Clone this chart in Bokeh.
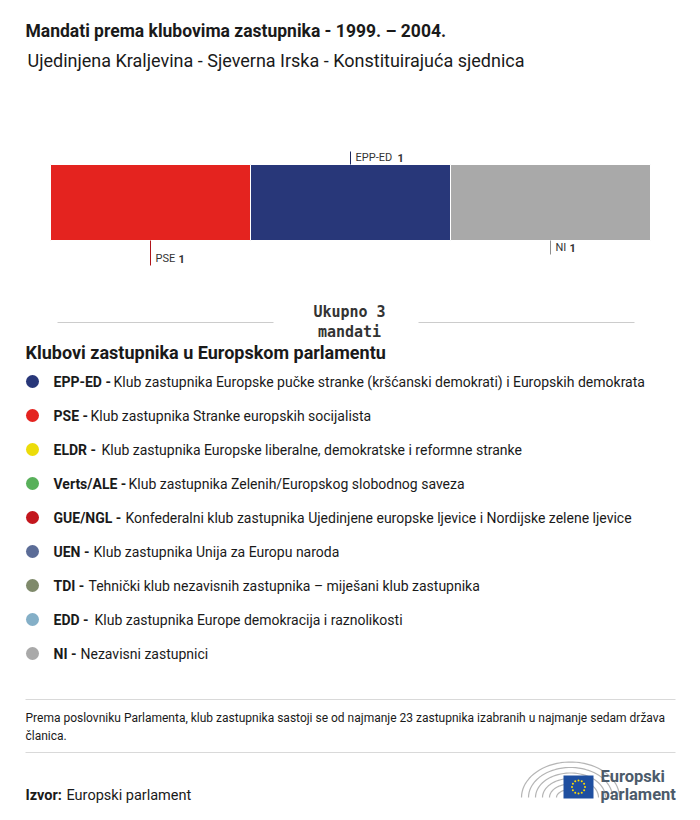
import numpy as np
from bokeh.plotting import figure
from bokeh.models import Range1d, ColumnDataSource
from bokeh.core.properties import value
from bokeh.embed import file_html
from bokeh.resources import INLINE

# ---------------- data ----------------
title = "Mandati prema klubovima zastupnika - 1999. – 2004."
subtitle = "Ujedinjena Kraljevina - Sjeverna Irska - Konstituirajuća sjednica"

groups = ["PSE", "EPP-ED", "NI"]
seats = [1, 1, 1]
group_colors = ["#e4231f", "#283779", "#a9a9a9"]
tick_colors = ["#b0141a", "#1c2860", "#8e8e8e"]

total_label = "Ukupno {}\nmandati"
legend_title = "Klubovi zastupnika u Europskom parlamentu"
legend_abbr = ["EPP-ED", "PSE", "ELDR", "Verts/ALE", "GUE/NGL", "UEN", "TDI", "EDD", "NI"]
legend_desc = [
    "Klub zastupnika Europske pučke stranke (kršćanski demokrati) i Europskih demokrata",
    "Klub zastupnika Stranke europskih socijalista",
    "Klub zastupnika Europske liberalne, demokratske i reformne stranke",
    "Klub zastupnika Zelenih/Europskog slobodnog saveza",
    "Konfederalni klub zastupnika Ujedinjene europske ljevice i Nordijske zelene ljevice",
    "Klub zastupnika Unija za Europu naroda",
    "Tehnički klub nezavisnih zastupnika – miješani klub zastupnika",
    "Klub zastupnika Europe demokracija i raznolikosti",
    "Nezavisni zastupnici",
]
legend_colors = ["#283779", "#e4231f", "#ecdc0a", "#58b05a", "#c3161d",
                 "#5b6c97", "#7f8a6b", "#84afc7", "#a9a9a9"]

note_lines = [
    "Prema poslovniku Parlamenta, klub zastupnika sastoji se od najmanje 23 zastupnika izabranih u najmanje sedam država",
    "članica.",
]
source_bold = "Izvor:"
source_text = "Europski parlament"
logo_lines = ["Europski", "parlament"]

# ---------------- layout (pixels from top-left of picture) ----------------
W, H = 684, 804
FONT = value("Roboto")
MONO = value("DejaVu Sans Mono")

p = figure(width=W, height=H, output_backend="svg", toolbar_location=None,
           x_range=Range1d(0, W), y_range=Range1d(H, 0),
           x_axis_type=None, y_axis_type=None, min_border=0,
           outline_line_color=None, background_fill_color="white",
           border_fill_color="white")
p.grid.visible = False

# bar scale: share axis mapped onto x 50..650
total = sum(seats)
bar_left_px, bar_right_px = 50, 650
scale = (bar_right_px - bar_left_px) / total
p.extra_x_ranges = {"share": Range1d(-bar_left_px / scale, (W - bar_left_px) / scale)}

cum = np.cumsum(seats)
lefts = cum - np.array(seats)
mids = lefts + np.array(seats) / 2.0
bar_src = ColumnDataSource(dict(left=lefts, right=cum, color=group_colors,
                                top=[164] * len(seats), bottom=[240] * len(seats)))
p.quad(left="left", right="right", top="top", bottom="bottom", fill_color="color",
       line_color="white", line_width=1, source=bar_src, x_range_name="share")

# labels: above / below-long / below-short
label_layout = {"PSE": (240, 265, 258), "EPP-ED": (151, 164, 157), "NI": (240, 254, 247)}
bold_off = {"PSE": 23, "EPP-ED": 42, "NI": 14}
for g, s, m, tc in zip(groups, seats, mids, tick_colors):
    y0, y1, yt = label_layout[g]
    p.segment(x0=[m], x1=[m], y0=[y0], y1=[y1], line_color=tc, line_width=1,
              x_range_name="share")
    p.text(x=[m], y=[yt], text=[g], x_offset=5, text_font=FONT, text_font_size="11px",
           text_color="#333333", text_baseline="middle", x_range_name="share")
    p.text(x=[m], y=[yt], text=[str(s)], x_offset=5 + bold_off[g], text_font=FONT,
           text_font_size="11px", text_font_style="bold", text_color="#333333",
           text_baseline="middle", x_range_name="share")

# titles
p.text(x=[25], y=[30], text=[title], text_font=FONT, text_font_size="17.5px",
       text_font_style="bold", text_color="#1a1a1a", text_baseline="middle")
p.text(x=[27], y=[60], text=[subtitle], text_font=FONT, text_font_size="18px",
       text_color="#1a1a1a", text_baseline="middle")

# total
p.segment(x0=[57, 418], x1=[273, 634], y0=[322, 322], y1=[322, 322],
          line_color="#cccccc", line_width=1)
tl = total_label.format(total).split("\n")
p.text(x=[349, 349], y=[311, 331], text=tl,
       text_font=MONO, text_font_size="15px", text_font_style="bold",
       text_color="#333333", text_align="center", text_baseline="middle")

# legend
p.text(x=[25], y=[352], text=[legend_title], text_font=FONT, text_font_size="18px",
       text_font_style="bold", text_color="#1a1a1a", text_baseline="middle")
n = len(legend_abbr)
ly = [381 + 34 * i for i in range(n)]
desc_x = [113, 90, 101, 128, 125, 93, 88, 94, 80]
p.scatter(x=[32] * n, y=ly, size=13, color=legend_colors, line_color=None)
p.text(x=[53] * n, y=ly, text=[a + " -" for a in legend_abbr], text_font=FONT,
       text_font_size="14px", text_font_style="bold", text_color="#1a1a1a",
       text_baseline="middle")
p.text(x=desc_x, y=ly, text=legend_desc, text_font=FONT,
       text_font_size="14px", text_color="#1a1a1a", text_baseline="middle")

# note and source
p.segment(x0=[25, 25], x1=[675, 675], y0=[699, 752], y1=[699, 752],
          line_color="#d9d9d9", line_width=1)
p.text(x=[25, 25], y=[717, 735], text=note_lines, text_font=FONT,
       text_font_size="12px", text_color="#1a1a1a", text_baseline="middle")
p.text(x=[25], y=[795], text=[source_bold], text_font=FONT, text_font_size="14.5px",
       text_font_style="bold", text_color="#1a1a1a", text_baseline="middle")
p.text(x=[66], y=[795], text=[source_text], text_font=FONT, text_font_size="14.5px",
       text_color="#1a1a1a", text_baseline="middle")

# logo (decoration)
cx, cy = 570, 797
t = np.linspace(np.pi, 2 * np.pi, 40)
xs, ys = [], []
for k in range(6):
    rx, ry = 14 + 7 * k, 8 + 5.5 * k
    xs.append(list(cx + rx * np.cos(t)))
    ys.append(list(cy + ry * np.sin(t)))
p.multi_line(xs=xs, ys=ys, line_color="#b5b5b5", line_width=1.2)
p.quad(left=[563], right=[593], top=[775], bottom=[798], fill_color="#1f4fa0",
       line_color=None)
ang = np.linspace(0, 2 * np.pi, 13)[:-1]
p.scatter(x=list(578 + 6.5 * np.cos(ang)), y=list(786.5 + 6.5 * np.sin(ang)),
          size=2, color="#ffdd00", line_color=None)
p.text(x=[600, 600], y=[776, 794], text=logo_lines, text_font=FONT,
       text_font_size="16.5px", text_font_style="bold", text_color="#4c5b6b",
       text_baseline="middle")

open("out.html", "w").write(file_html(p, INLINE))
